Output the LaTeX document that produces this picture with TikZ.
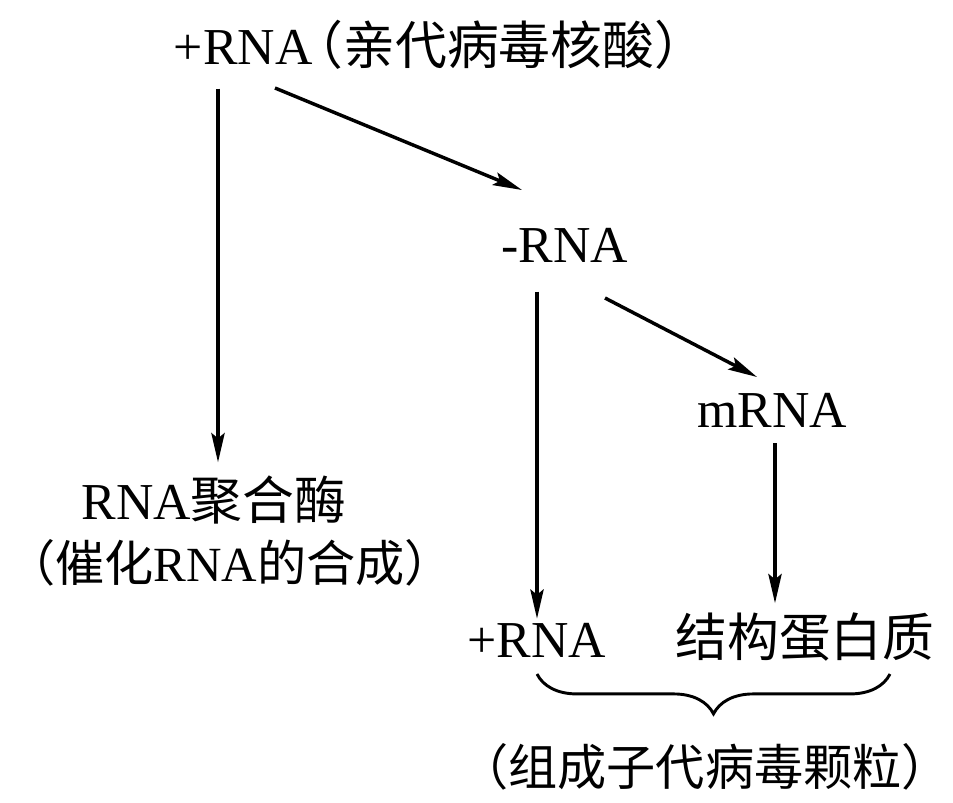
\documentclass[tikz,border=0pt]{standalone}
\usepackage{fontspec}
\setmainfont{Liberation Serif}
\newfontfamily\cjk{Noto Sans CJK SC}
\usetikzlibrary{arrows.meta,decorations.pathreplacing,calc}
\begin{document}
\begin{tikzpicture}[x=0.02646cm,y=-0.02646cm,
  lbl/.style={inner sep=0pt, font=\fontsize{39}{44}\selectfont},
  lblsm/.style={inner sep=0pt, font=\fontsize{37}{42}\selectfont},
  arr/.style={line width=2.6pt,-{Stealth[length=22pt,width=10pt,inset=4pt]}},
  bracestyle/.style={line width=2.2pt, decorate, decoration={brace, mirror, amplitude=30pt}}]
\useasboundingbox[fill=white] (0,0) rectangle (953,802);
\node[lbl] (top) at (440,45) {+RNA\hspace{-0.4em}{\cjk（亲代病毒核酸）}};
\node[lbl] (neg) at (565,245) {-RNA};
\node[lbl] (mrna) at (772,410) {mRNA};
\node[lbl] (enz1) at (214,500) {RNA{\cjk 聚合酶}};
\node[lblsm] (enz2) at (230,563) {{\cjk（催化}RNA{\cjk 的合成）}};
\node[lbl] (plus) at (537,640) {+RNA};
\node[lbl] (struct) at (805,637) {\cjk 结构蛋白质};
\node[lblsm] (group) at (705,767) {\cjk（组成子代病毒颗粒）};
% connectors
\draw[arr, shorten <=14pt, shorten >=10pt] ($(enz1.north |- top.south)+(4,0)$) -- ($(enz1.north)+(4,0)$);
\coordinate (a2s) at (275,88);
\coordinate (a2e) at (522,190);
\draw[arr] (a2s) -- (a2e);
\draw[arr, shorten <=22pt, shorten >=3pt] (plus.north |- neg.south) -- (plus.north);
\coordinate (a4s) at (605,298);
\coordinate (a4e) at (757,377);
\draw[arr] (a4s) -- (a4e);
\draw[arr, shorten <=12pt, shorten >=7pt] ($(mrna.south)+(3,0)$) -- ($(mrna.south |- struct.north)+(3,0)$);
% brace
\coordinate (bl) at (537,674);
\coordinate (br) at (890,674);
\draw[bracestyle] (bl) -- (br);
\end{tikzpicture}
\end{document}
